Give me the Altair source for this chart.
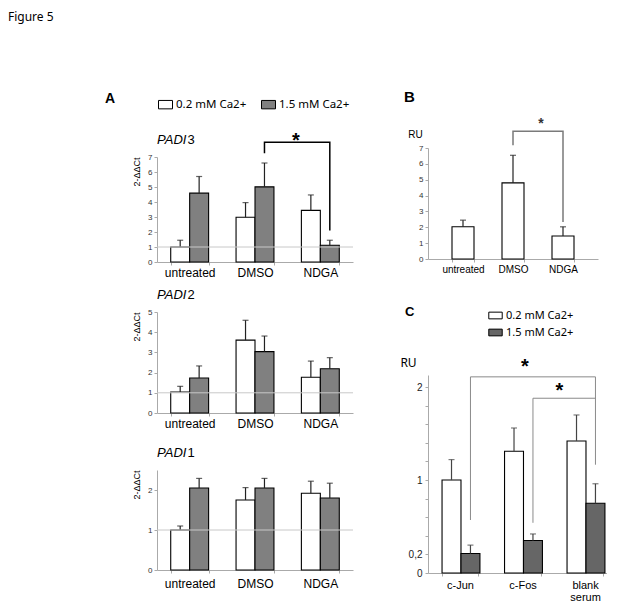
import altair as alt
import pandas as pd

FONT = "Liberation Sans"
LFONT = "Noto Sans"

conditions = ["0.2 mM Ca2+", "1.5 mM Ca2+"]
groups_A = ["untreated", "DMSO", "NDGA"]

padi3_low = [1.0, 2.98, 3.44]
padi3_low_err = [0.45, 0.98, 1.03]
padi3_high = [4.59, 5.01, 1.12]
padi3_high_err = [1.11, 1.59, 0.33]

padi2_low = [1.04, 3.61, 1.77]
padi2_low_err = [0.28, 0.98, 0.80]
padi2_high = [1.73, 3.04, 2.19]
padi2_high_err = [0.60, 0.77, 0.55]

padi1_low = [1.0, 1.75, 1.92]
padi1_low_err = [0.10, 0.31, 0.30]
padi1_high = [2.05, 2.05, 1.80]
padi1_high_err = [0.24, 0.24, 0.37]

groups_B = ["untreated", "DMSO", "NDGA"]
ru_B = [2.03, 4.80, 1.45]
ru_B_err = [0.42, 1.74, 0.58]

groups_C = ["c-Jun", "c-Fos", "blank serum"]
c_low = [1.0, 1.31, 1.42]
c_low_err = [0.22, 0.25, 0.28]
c_high = [0.21, 0.35, 0.75]
c_high_err = [0.09, 0.07, 0.21]

# significance brackets (category, y)
br_A3 = [("DMSO", 7.25), ("DMSO", 7.99), ("NDGA", 7.99), ("NDGA", 2.1)]
br_B = [("DMSO", 7.17), ("DMSO", 8.05), ("NDGA", 8.05), ("NDGA", 2.33)]
br_C1 = [("c-Jun", 0.57), ("c-Jun", 2.11), ("blank serum", 2.11), ("blank serum", 1.165)]
br_C2 = [("c-Fos", 0.54), ("c-Fos", 1.88), ("blank serum", 1.88)]


def make_df(groups, low, low_err, high, high_err):
    rows = []
    for cond, vals, errs in [(conditions[0], low, low_err), (conditions[1], high, high_err)]:
        for g, v, e in zip(groups, vals, errs):
            rows.append({"group": g, "cond": cond, "value": v, "upper": round(v + e, 3)})
    return pd.DataFrame(rows)


def bracket_df(points, cond, bid="a"):
    return pd.DataFrame({"group": [p[0] for p in points], "cond": [cond] * len(points),
                         "y": [p[1] for p in points], "seq": list(range(len(points))),
                         "id": [bid] * len(points)})


def note(text, x, y, size, weight="normal", style="normal", font=FONT, baseline="alphabetic", opacity=1.0):
    return alt.Chart(pd.DataFrame({"t": [text]})).mark_text(
        align="left", baseline=baseline, font=font, fontSize=size, fontWeight=weight,
        fontStyle=style, color="black", opacity=opacity
    ).encode(x=alt.value(x), y=alt.value(y), text="t:N")


def spacer_v(y1, y2):
    return alt.Chart(pd.DataFrame({"s": [0]})).mark_rule(strokeOpacity=0).encode(
        x=alt.value(0), y=alt.value(y1), y2=alt.value(y2))


def spacer_h(x1, x2):
    return alt.Chart(pd.DataFrame({"s": [0]})).mark_rule(strokeOpacity=0).encode(
        y=alt.value(0), x=alt.value(x1), x2=alt.value(x2))


def x_axis(size, pad=2):
    return alt.Axis(title=None, labelAngle=0, labelFontSize=size, labelColor="black", labelFont=FONT,
                    domainColor="#aaaaaa", tickColor="#aaaaaa", tickSize=3, tickBand="extent",
                    labelPadding=pad)


def y_axis_A(values):
    return alt.Axis(values=values, title="2-ΔΔCt", titleAnchor="end", titleFontSize=9,
                    titleFontWeight="normal", titleFont=FONT, titleColor="black", titlePadding=6,
                    labelFontSize=8, labelColor="#333333", labelFont=FONT, domainColor="#aaaaaa",
                    tickColor="#aaaaaa", tickSize=3, labelPadding=2, grid=False)


def padi_panel(gene_num, df, ydomain, yvalues, width, height, legend, bracket=None, star=None,
               extra=None, label_pad=2):
    xs = alt.Scale(paddingInner=0.42, paddingOuter=0.21)
    x = alt.X("group:N", sort=groups_A, scale=xs, axis=x_axis(12, label_pad))
    xo = alt.XOffset("cond:N", sort=conditions, scale=alt.Scale(domain=conditions))
    ys = alt.Scale(domain=ydomain, nice=False, zero=True)
    ya = y_axis_A(yvalues)
    bars = alt.Chart(df).mark_bar(stroke="black", strokeWidth=1.1).encode(
        x=x, xOffset=xo, y=alt.Y("value:Q", scale=ys, axis=ya),
        fill=alt.Fill("cond:N", scale=alt.Scale(domain=conditions, range=["white", "#808080"]),
                      legend=legend))
    err = alt.Chart(df).mark_rule(color="#222222", strokeWidth=1.2).encode(
        x=x, xOffset=xo, y=alt.Y("value:Q", scale=ys, axis=ya), y2="upper:Q")
    cap = alt.Chart(df).mark_tick(color="#222222", thickness=1.2, size=6).encode(
        x=x, xOffset=xo, y=alt.Y("upper:Q", scale=ys, axis=ya))
    ref = alt.Chart(pd.DataFrame({"v": [1.0]})).mark_rule(color="#c8c8c8", strokeWidth=1).encode(
        y=alt.Y("v:Q", scale=ys, axis=ya))
    layers = [bars, err, cap, ref]
    if bracket is not None:
        layers.append(alt.Chart(bracket).mark_line(color="black", strokeWidth=1.5).encode(
            x=x, xOffset=xo, y=alt.Y("y:Q", scale=ys, axis=ya), order="seq:O", detail="id:N"))
    if star is not None:
        layers.append(alt.Chart(star).mark_text(text="*", font=FONT, fontSize=20, fontWeight="bold",
                                                baseline="alphabetic", dx=-15).encode(
            x=x, xOffset=xo, y=alt.Y("y:Q", scale=ys, axis=ya)))
    layers.append(note("PADI", 0, -13, 13, style="italic"))
    layers.append(note(gene_num, 30.5, -13, 13))
    if extra:
        layers.extend(extra)
    return alt.layer(*layers).properties(width=width, height=height)


legend_A = alt.Legend(title=None, orient="none", legendX=1, legendY=-60, direction="horizontal",
                      symbolType="M-1,-0.6H1V0.6H-1Z", symbolSize=196, symbolStrokeColor="black",
                      symbolStrokeWidth=1, symbolOpacity=1, labelFont=LFONT, labelFontSize=11.5,
                      labelColor="black", columnPadding=12, labelOffset=3, padding=0)

df3 = make_df(groups_A, padi3_low, padi3_low_err, padi3_high, padi3_high_err)
df2 = make_df(groups_A, padi2_low, padi2_low_err, padi2_high, padi2_high_err)
df1 = make_df(groups_A, padi1_low, padi1_low_err, padi1_high, padi1_high_err)

starA = pd.DataFrame({"group": ["NDGA"], "cond": [conditions[0]], "y": [7.7]})

# top strips (same height in both columns) so the two columns start together
T_A = alt.layer(note("Figure 5", -149, 13, 12, font=LFONT), spacer_v(0, 20),
                spacer_h(-149, 203)).properties(width=1, height=1)
T_B = alt.layer(note("Figure 5", 0, 13, 12, font=LFONT, opacity=0), spacer_v(0, 20),
                spacer_h(-68, 0)).properties(width=1, height=1)

A1 = padi_panel("3", df3, [0, 7], list(range(8)), 196, 105, legend_A,
                bracket=bracket_df(br_A3, conditions[1]), star=starA,
                extra=[note("A", -52, -54, 14, weight="bold"), spacer_v(-129, 125)])
A2 = padi_panel("2", df2, [0, 5], list(range(6)), 196, 101, None, extra=[spacer_v(-30, 125)])
A3 = padi_panel("1", df1, [0, 2.5], [0, 1, 2], 196, 100, None, extra=[spacer_v(-33, 110)],
                label_pad=5)

colA = alt.vconcat(T_A, A1, A2, A3, spacing=0).resolve_scale(fill="independent")

# ---- Panel B
dfB = pd.DataFrame({"group": groups_B, "value": ru_B,
                    "upper": [round(v + e, 3) for v, e in zip(ru_B, ru_B_err)]})
xsB = alt.Scale(paddingInner=0.56, paddingOuter=0.48)
xB = alt.X("group:N", sort=groups_B, scale=xsB, axis=x_axis(10))
ysB = alt.Scale(domain=[0, 7], nice=False)
yaB = alt.Axis(values=list(range(8)), title="RU", titleAngle=0, titleX=-13, titleY=-11,
               titleAlign="center", titleBaseline="alphabetic", titleFontSize=10,
               titleFontWeight="normal", titleFont=FONT, titleColor="black",
               labelFontSize=8, labelColor="#333333", labelFont=FONT, domainColor="#aaaaaa",
               tickColor="#aaaaaa", tickSize=3, labelPadding=2, grid=False)
barsB = alt.Chart(dfB).mark_bar(stroke="black", strokeWidth=1.1, fill="white").encode(
    x=xB, y=alt.Y("value:Q", scale=ysB, axis=yaB))
errB = alt.Chart(dfB).mark_rule(color="#222222", strokeWidth=1.2).encode(
    x=xB, y=alt.Y("value:Q", scale=ysB, axis=yaB), y2="upper:Q")
capB = alt.Chart(dfB).mark_tick(color="#222222", thickness=1.2, size=6).encode(
    x=xB, y=alt.Y("upper:Q", scale=ysB, axis=yaB))
brB = pd.DataFrame({"group": [p[0] for p in br_B], "y": [p[1] for p in br_B],
                    "seq": list(range(len(br_B)))})
bracketB = alt.Chart(brB).mark_line(color="#7a7a7a", strokeWidth=1.5).encode(
    x=xB, y=alt.Y("y:Q", scale=ysB, axis=yaB), order="seq:O")
starB = alt.Chart(pd.DataFrame({"group": ["NDGA"], "y": [8.25]})).mark_text(
    text="*", font=FONT, fontSize=14, fontWeight="bold", baseline="alphabetic", dx=-22,
    color="#333333").encode(x=xB, y=alt.Y("y:Q", scale=ysB, axis=yaB))
B = alt.layer(barsB, errB, capB, bracketB, starB,
              note("B", -24, -46, 15, weight="bold"),
              spacer_v(-120, 142)).properties(width=170, height=111)

# ---- Panel C
dfC = make_df(groups_C, c_low, c_low_err, c_high, c_high_err)
xsC = alt.Scale(paddingInner=0.424, paddingOuter=0.144, align=0.78)
xC = alt.X("group:N", sort=groups_C, scale=xsC,
           axis=alt.Axis(title=None, labelAngle=0, labelFontSize=11, labelColor="black",
                         labelFont=FONT, domainColor="#aaaaaa", tickColor="#aaaaaa", tickSize=3,
                         tickBand="extent", labelPadding=3, labelLineHeight=12,
                         labelExpr="split(datum.label, ' ')"))
xoC = alt.XOffset("cond:N", sort=conditions, scale=alt.Scale(domain=conditions))
ysC = alt.Scale(domain=[0, 2.13], nice=False)
c_ticks = [round(0.2 * k, 1) for k in range(11)]
yaC = alt.Axis(values=c_ticks, title="RU", titleAngle=0, titleX=-20, titleY=-9,
               titleAlign="center", titleBaseline="alphabetic", titleFontSize=12,
               titleFontWeight="normal", titleFont=LFONT, titleColor="black",
               labelExpr="abs(datum.value-0.2)<0.001 ? '0,2' : (abs(datum.value)<0.001 || abs(datum.value-1)<0.001 || abs(datum.value-2)<0.001) ? format(datum.value, 'd') : ''",
               labelFontSize=10, labelColor="#222222", labelFont=FONT, domainColor="#aaaaaa",
               tickColor="#aaaaaa", tickSize=3, labelPadding=3, grid=False)
legend_C = alt.Legend(title=None, orient="none", legendX=60, legendY=-67, direction="vertical",
                      symbolType="M-1,-0.5H1V0.5H-1Z", symbolSize=180, symbolStrokeColor="black",
                      symbolStrokeWidth=1, symbolOpacity=1, labelFont=LFONT, labelFontSize=11,
                      labelColor="black", rowPadding=4, labelOffset=3, padding=0)
barsC = alt.Chart(dfC).mark_bar(stroke="black", strokeWidth=1.1).encode(
    x=xC, xOffset=xoC, y=alt.Y("value:Q", scale=ysC, axis=yaC),
    fill=alt.Fill("cond:N", scale=alt.Scale(domain=conditions, range=["white", "#666666"]),
                  legend=legend_C))
errC = alt.Chart(dfC).mark_rule(color="#444444", strokeWidth=1.2).encode(
    x=xC, xOffset=xoC, y=alt.Y("value:Q", scale=ysC, axis=yaC), y2="upper:Q")
capC = alt.Chart(dfC).mark_tick(color="#444444", thickness=1.2, size=6).encode(
    x=xC, xOffset=xoC, y=alt.Y("upper:Q", scale=ysC, axis=yaC))
brC = pd.concat([bracket_df(br_C1, conditions[1], "a"), bracket_df(br_C2, conditions[1], "b")])
bracketC = alt.Chart(brC).mark_line(color="#8a8a8a", strokeWidth=1).encode(
    x=xC, xOffset=xoC, y=alt.Y("y:Q", scale=ysC, axis=yaC), order="seq:O", detail="id:N")
starC1 = alt.Chart(pd.DataFrame({"group": ["c-Fos"], "cond": [conditions[0]], "y": [2.15]})).mark_text(
    text="*", font=FONT, fontSize=20, fontWeight="bold", baseline="alphabetic", dx=11).encode(
    x=xC, xOffset=xoC, y=alt.Y("y:Q", scale=ysC, axis=yaC))
starC2 = alt.Chart(pd.DataFrame({"group": ["blank serum"], "cond": [conditions[0]], "y": [1.89]})).mark_text(
    text="*", font=FONT, fontSize=20, fontWeight="bold", baseline="alphabetic", dx=-17).encode(
    x=xC, xOffset=xoC, y=alt.Y("y:Q", scale=ysC, axis=yaC))
C = alt.layer(barsC, errC, capC, bracketC, starC1, starC2,
              note("C", -23, -59, 13, weight="bold"),
              spacer_v(-85, 0)).properties(width=179, height=198)

colB = alt.vconcat(T_B, B, C, spacing=0).resolve_scale(fill="independent")

chart = alt.hconcat(colA, colB, spacing=0).resolve_scale(fill="independent").properties(
    padding=0
).configure(font=FONT, view=alt.ViewConfig(stroke="transparent", strokeWidth=0))

chart.save("out.html", embed_options={"renderer": "svg", "actions": False})
